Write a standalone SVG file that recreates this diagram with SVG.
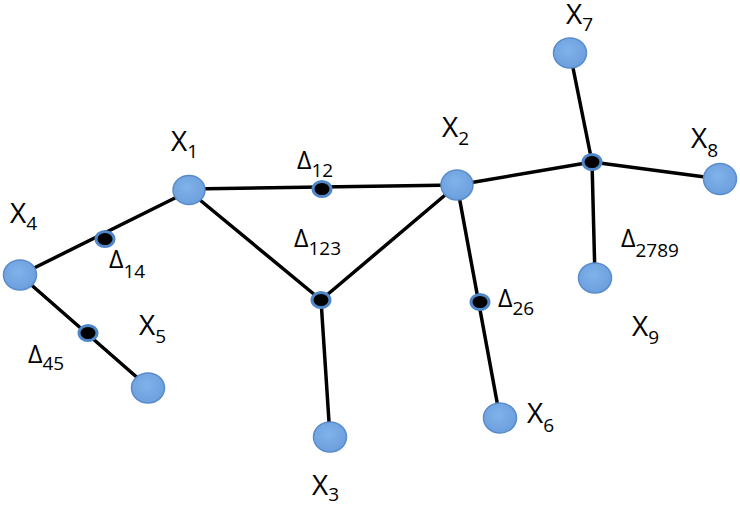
<svg xmlns="http://www.w3.org/2000/svg" width="740" height="506" viewBox="0 0 740 506">
<defs>
<radialGradient id="g" cx="0.45" cy="0.4" r="0.65">
<stop offset="0" stop-color="#80b2ea"/>
<stop offset="1" stop-color="#6a9edc"/>
</radialGradient>
<style>
.n{fill:url(#g);stroke:#5a8ccb;stroke-width:1.5}
.d{fill:#000;stroke:#4f86c8;stroke-width:3}
.e{stroke:#000;stroke-width:3.5;fill:none;stroke-linecap:round}
text{font-family:"Open Sans","Liberation Sans",sans-serif;fill:#000}
.x{font-size:28px}
.dl{font-size:25px}
.s{font-size:19px}
</style>
</defs>
<rect width="740" height="506" fill="#fff"/>
<g id="edges">
<line class="e" x1="20" y1="275" x2="189" y2="191"/>
<line class="e" x1="20" y1="275" x2="148" y2="387"/>
<line class="e" x1="189" y1="189" x2="457" y2="185"/>
<line class="e" x1="189" y1="191" x2="321" y2="300"/>
<line class="e" x1="457" y1="185" x2="321" y2="300"/>
<line class="e" x1="321" y1="300" x2="330" y2="437"/>
<line class="e" x1="457" y1="185" x2="500" y2="418"/>
<line class="e" x1="457" y1="185" x2="592" y2="162"/>
<line class="e" x1="592" y1="162" x2="570" y2="53"/>
<line class="e" x1="592" y1="162" x2="720" y2="179"/>
<line class="e" x1="592" y1="162" x2="595" y2="278"/>
</g>
<g id="X1"><ellipse class="n" cx="189" cy="190" rx="16" ry="14.5"/><text class="x" x="171" y="151">X<tspan class="s" dy="7">1</tspan></text></g>
<g id="X2"><ellipse class="n" cx="457" cy="185" rx="16" ry="15"/><text class="x" x="442" y="137">X<tspan class="s" dy="8">2</tspan></text></g>
<g id="X3"><ellipse class="n" cx="330" cy="437" rx="16.5" ry="15"/><text class="x" x="312" y="495">X<tspan class="s" dy="6">3</tspan></text></g>
<g id="X4"><ellipse class="n" cx="20" cy="275" rx="16.5" ry="15"/><text class="x" x="10" y="223">X<tspan class="s" dy="7">4</tspan></text></g>
<g id="X5"><ellipse class="n" cx="148" cy="388" rx="16.5" ry="15"/><text class="x" x="139" y="335">X<tspan class="s" dy="8">5</tspan></text></g>
<g id="X6"><ellipse class="n" cx="500" cy="418" rx="16.5" ry="15"/><text class="x" x="527" y="423">X<tspan class="s" dy="9">6</tspan></text></g>
<g id="X7"><ellipse class="n" cx="570" cy="53" rx="16.5" ry="15"/><text class="x" x="566" y="24">X<tspan class="s" dy="7">7</tspan></text></g>
<g id="X8"><ellipse class="n" cx="720" cy="179" rx="16.5" ry="15.5"/><text class="x" x="691" y="148">X<tspan class="s" dy="9">8</tspan></text></g>
<g id="X9"><ellipse class="n" cx="595" cy="278" rx="16.5" ry="15"/><text class="x" x="632" y="336">X<tspan class="s" dy="8">9</tspan></text></g>
<g id="D12"><ellipse class="d" cx="322" cy="189" rx="9" ry="7.5"/><text class="dl" x="297" y="169">Δ<tspan class="s" dy="8">12</tspan></text></g>
<g id="D123"><ellipse class="d" cx="321" cy="300" rx="9" ry="7.5"/><text class="dl" x="294" y="247">Δ<tspan class="s" dy="8">123</tspan></text></g>
<g id="D14"><ellipse class="d" cx="105" cy="239" rx="9" ry="7.5"/><text class="dl" x="109" y="268">Δ<tspan class="s" dy="10">14</tspan></text></g>
<g id="D45"><ellipse class="d" cx="88" cy="333" rx="9" ry="7.5"/><text class="dl" x="28" y="363">Δ<tspan class="s" dy="7">45</tspan></text></g>
<g id="D26"><ellipse class="d" cx="480" cy="302" rx="9" ry="7.5"/><text class="dl" x="498" y="307">Δ<tspan class="s" dy="8">26</tspan></text></g>
<g id="D2789"><ellipse class="d" cx="592" cy="162" rx="9" ry="7.5"/><text class="dl" x="621" y="247">Δ<tspan class="s" dy="10">2789</tspan></text></g>
</svg>
